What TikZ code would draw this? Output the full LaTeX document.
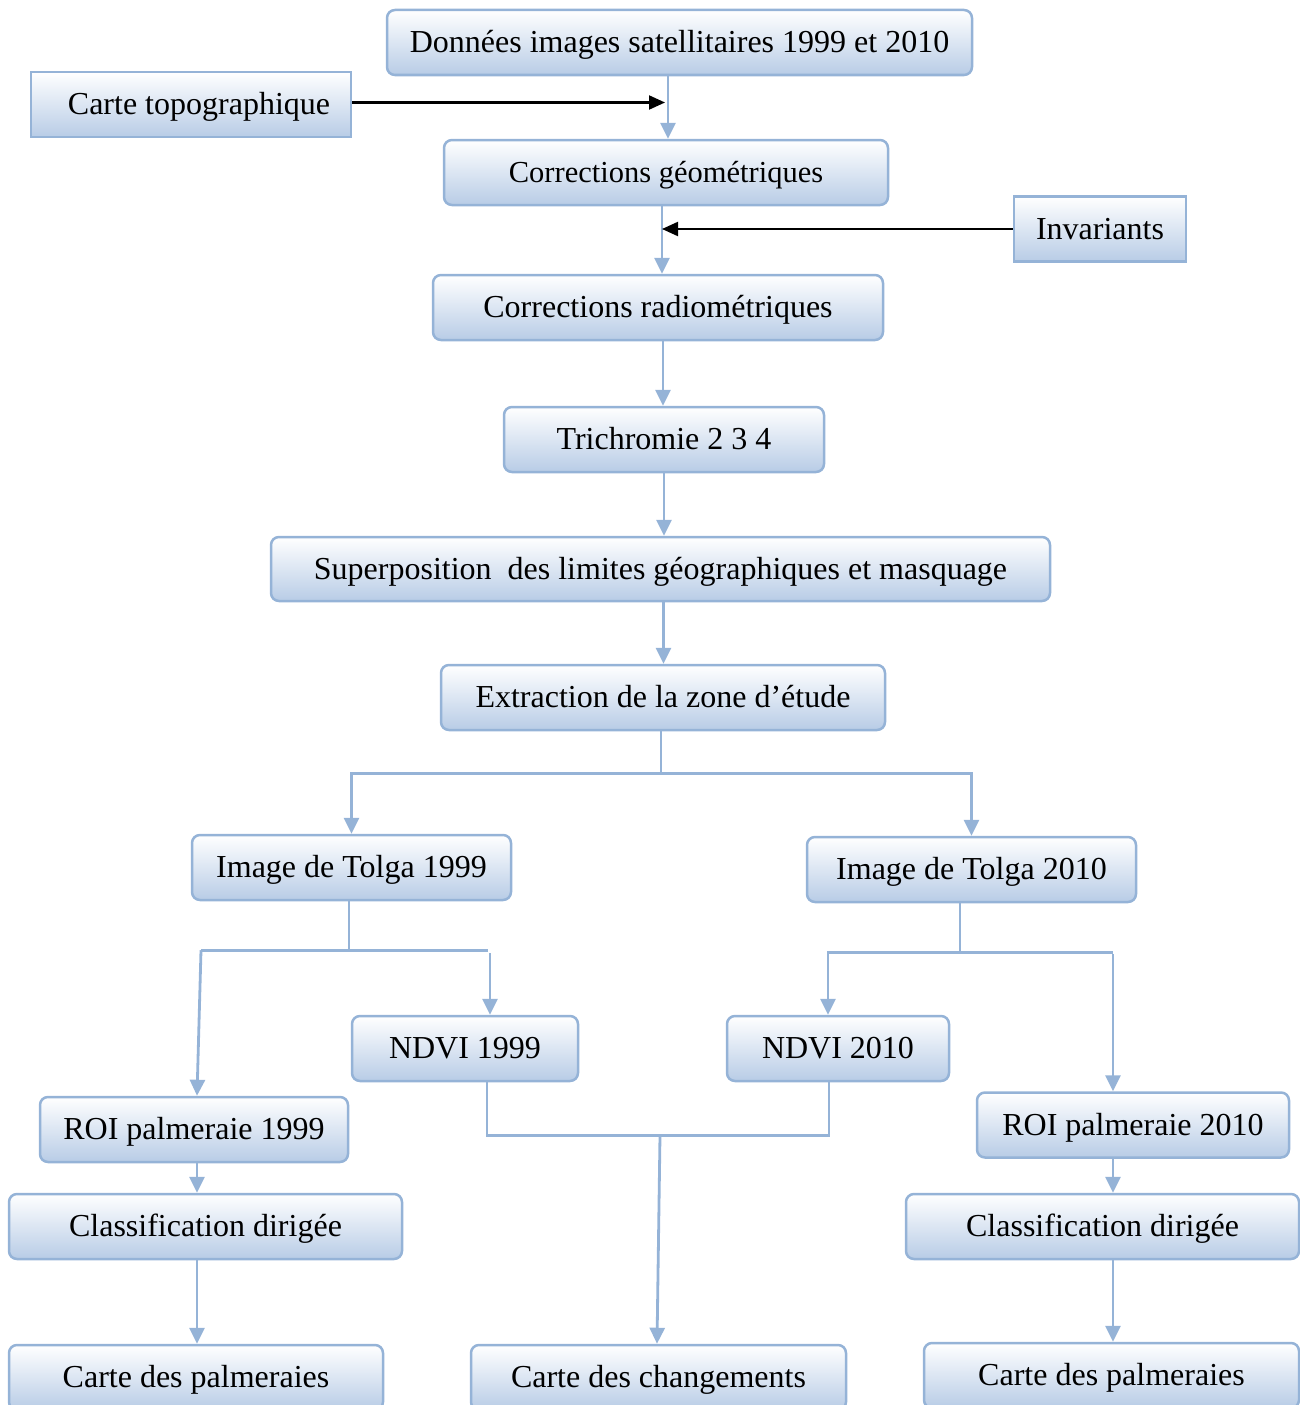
\documentclass[tikz,border=0pt]{standalone}
\usepackage{fontspec}
\setmainfont{Liberation Serif}
\usetikzlibrary{arrows.meta,calc}

\definecolor{lineblue}{RGB}{149,179,215}
\definecolor{fillblue}{RGB}{184,204,230}

\tikzset{
  box/.style={rectangle, rounded corners=8pt, draw=lineblue, line width=2.5pt,
    top color=white, bottom color=fillblue, minimum height=65pt, inner sep=0pt,
    text height=23pt, text depth=3pt, font=\fontsize{32}{38}\selectfont},
  boxsq/.style={box, rounded corners=0pt},
  link/.style={draw=lineblue, line width=2.8pt},
  linkarr/.style={link, -{Triangle[length=16pt,width=15pt]}},
  blackarr/.style={draw=black, line width=2.1pt, -{Triangle[length=16pt,width=14pt]}}
}

\begin{document}
\begin{tikzpicture}[x=1pt, y=-1pt]
  \useasboundingbox (0,0) rectangle (1300,1405);
  \clip (0,0) rectangle (1300,1405);

  % Boxes
  \node[box, minimum width=585] (donnees) at (679.5,42.5) {Données images satellitaires 1999 et 2010};
  \node[boxsq, minimum width=320] (topo) at (191,104.5) {\hspace{16pt}Carte topographique};
  \node[box, minimum width=444, font=\fontsize{30.5}{36}\selectfont] (geo) at (666,172.5) {Corrections géométriques};
  \node[boxsq, minimum width=172] (invar) at (1100,229) {Invariants};
  \node[box, minimum width=450] (radio) at (658,307.5) {Corrections radiométriques};
  \node[box, minimum width=320] (trichro) at (664,439.5) {Trichromie 2 3 4};
  \node[box, minimum width=779, minimum height=64] (superpos) at (660.5,569) {Superposition\ \ des limites géographiques et masquage};
  \node[box, minimum width=444] (extract) at (663,697.5) {Extraction de la zone d’étude};
  \node[box, minimum width=319] (img99) at (351.5,867.5) {Image de Tolga 1999};
  \node[box, minimum width=329] (img10) at (971.5,869.5) {Image de Tolga 2010};
  \node[box, minimum width=226] (ndvi99) at (465,1048.5) {NDVI 1999};
  \node[box, minimum width=222] (ndvi10) at (838,1048.5) {NDVI 2010};
  \node[box, minimum width=308] (roi99) at (194,1129.5) {ROI palmeraie 1999};
  \node[box, minimum width=312] (roi10) at (1133,1125) {ROI palmeraie 2010};
  \node[box, minimum width=393] (class99) at (205.5,1226.5) {Classification dirigée};
  \node[box, minimum width=393] (class10) at (1102.5,1226.5) {Classification dirigée};
  \node[box, minimum width=374] (palm99) at (196,1377.5) {Carte des palmeraies};
  \node[box, minimum width=375] (chg) at (658.5,1377.5) {Carte des changements};
  \node[box, minimum width=375] (palm10) at (1111.5,1375.5) {Carte des palmeraies};

  % Columns for the off-centre lines
  \coordinate (c99) at (197,0);
  \coordinate (c10) at (1113,0);

  % Main trunk
  \draw[linkarr] ($(donnees.south -| geo.north)+(2,0)$) -- ($(geo.north)+(2,0)$);
  \draw[blackarr] ($(topo.east)+(0,-2)$) -- ($(topo.east -| geo.north)+(-1,-2)$);
  \draw[linkarr] ($(geo.south)+(-4,0)$) -- ($(geo.south |- radio.north)+(-4,0)$);
  \draw[blackarr] (invar.west) -- ($(invar.west -| radio.north)+(4,0)$);
  \draw[linkarr] ($(radio.south)+(5,0)$) -- ($(radio.south |- trichro.north)+(5,0)$);
  \draw[linkarr] (trichro.south) -- (trichro.south |- superpos.north);
  \draw[linkarr] ($(superpos.south)+(3,0)$) -- ($(superpos.south |- extract.north)+(3,0)$);

  % Split into the two dates
  \draw[link] ($(extract.south)+(-2,0)$) -- ++(0,42) coordinate (s1);
  \draw[linkarr] (s1) -| (img99.north);
  \draw[linkarr] (s1) -| (img10.north);

  % 1999 branch
  \draw[link] ($(img99.south)+(-2.5,0)$) -- ++(0,49) coordinate (s2);
  \draw[link] (s2) -- ++(-148,0) coordinate (s2l);
  \draw[link] (s2) -- ++(139,0) coordinate (s2r);
  \draw[linkarr] (s2l) -- (roi99.north -| c99);
  \draw[linkarr] ($(s2r)+(2,3)$) -- ($(s2r |- ndvi99.north)+(2,0)$);
  \draw[linkarr] (roi99.south -| c99) -- (class99.north -| c99);
  \draw[linkarr] (class99.south -| c99) -- (palm99.north -| c99);

  % 2010 branch
  \draw[link] ($(img10.south)+(-11.5,0)$) -- ++(0,49) coordinate (s3);
  \draw[link] (s3) -- (s3 -| c10);
  \draw[linkarr] (s3) -| ($(ndvi10.north)+(-10,0)$);
  \draw[linkarr] ($(s3 -| c10)+(0,2)$) -- (roi10.north -| c10);
  \draw[linkarr] (roi10.south -| c10) -- (class10.north -| c10);
  \draw[linkarr] (class10.south -| c10) -- (palm10.north -| c10);

  % Change map
  \draw[link] ($(ndvi99.south)+(22,0)$) -- ++(0,53) coordinate (m1)
    -- ($(m1 -| ndvi10.south)+(-9,0)$) -- ($(ndvi10.south)+(-9,0)$);
  \draw[linkarr] ($(m1)+(173,0)$) -- ($(chg.north)+(-1.5,0)$);
\end{tikzpicture}
\end{document}
